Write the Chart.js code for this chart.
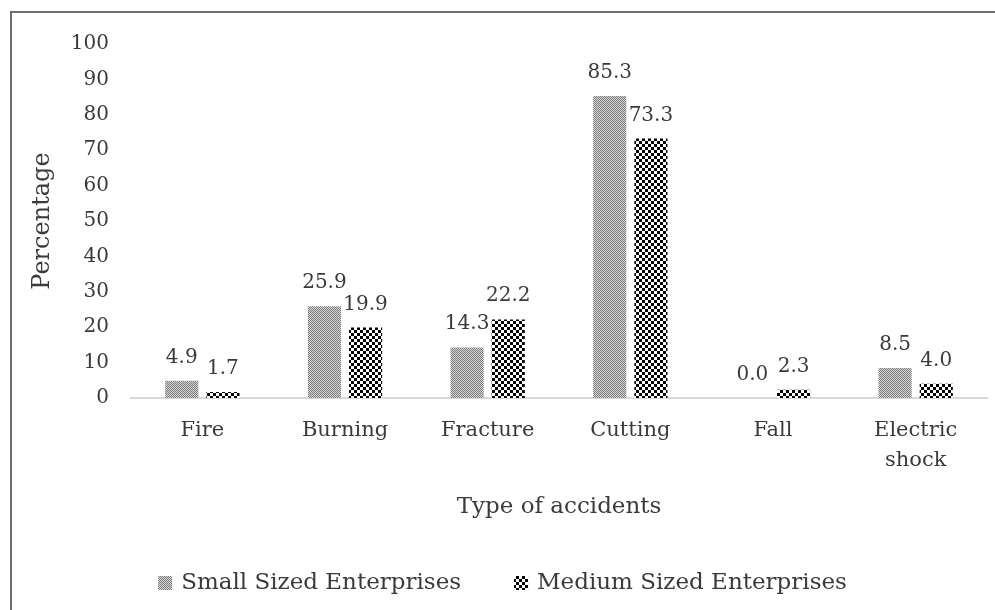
<!DOCTYPE html>
<html>
<head>
<meta charset="utf-8">
<script src="https://cdn.jsdelivr.net/npm/chart.js@4/dist/chart.umd.min.js"></script>
<style>
  body { margin: 0; background: #fff; overflow: hidden; }
  #wrap { position: relative; width: 995px; height: 610px; }
  #frame { position: absolute; left: 10px; top: 11px; width: 1100px; height: 800px;
           border: 2px solid #6e6e6e; pointer-events: none; }
</style>
</head>
<body>
<div id="wrap">
  <canvas id="chart" width="995" height="610"></canvas>
  <div id="frame"></div>
</div>
<script>
const categories = ['Fire', 'Burning', 'Fracture', 'Cutting', 'Fall', ['Electric', 'shock']];
const smallValues = [4.9, 25.9, 14.3, 85.3, 0.0, 8.5];
const mediumValues = [1.7, 19.9, 22.2, 73.3, 2.3, 4.0];
const seriesNames = ['Small Sized Enterprises', 'Medium Sized Enterprises'];

const FONT = "'DejaVu Serif', serif";
const TEXT = '#3a3a3a';

// fine gray checker for small, coarse black/white checker for medium
function finePattern() {
  const c = document.createElement('canvas');
  c.width = 2; c.height = 2;
  const g = c.getContext('2d');
  g.fillStyle = '#d8d8d8'; g.fillRect(0, 0, 2, 2);
  g.fillStyle = '#7a7a7a'; g.fillRect(0, 0, 1, 1); g.fillRect(1, 1, 1, 1);
  return g.createPattern(c, 'repeat');
}
function coarsePattern() {
  const c = document.createElement('canvas');
  c.width = 6; c.height = 6;
  const g = c.getContext('2d');
  g.fillStyle = '#fff'; g.fillRect(0, 0, 6, 6);
  g.fillStyle = '#000'; g.fillRect(0, 0, 3, 3); g.fillRect(3, 3, 3, 3);
  return g.createPattern(c, 'repeat');
}

const valueLabels = {
  id: 'valueLabels',
  afterDatasetsDraw(chart) {
    const ctx = chart.ctx;
    ctx.save();
    ctx.font = '20px ' + FONT;
    ctx.fillStyle = TEXT;
    ctx.textAlign = 'center';
    ctx.textBaseline = 'alphabetic';
    chart.data.datasets.forEach((ds, i) => {
      chart.getDatasetMeta(i).data.forEach((bar, j) => {
        ctx.fillText(ds.data[j].toFixed(1), bar.x, bar.y - 18);
      });
    });
    ctx.restore();
  }
};

// legend drawn by hand so the gap between items can be wide
const bottomLegend = {
  id: 'bottomLegend',
  afterDraw(chart) {
    const ctx = chart.ctx;
    const box = 14, gap = 9, itemGap = 53, y = 583;
    ctx.save();
    ctx.font = '23px ' + FONT;
    const items = chart.data.datasets.map(ds => ({ text: ds.label, fill: ds.backgroundColor, w: ctx.measureText(ds.label).width }));
    let total = 0;
    items.forEach((it, i) => { total += box + gap + it.w + (i ? itemGap : 0); });
    let x = chart.width / 2 - total / 2 + 5;
    items.forEach((it, i) => {
      if (i) x += itemGap;
      ctx.fillStyle = it.fill;
      ctx.fillRect(x, y - box / 2, box, box);
      x += box + gap;
      ctx.fillStyle = TEXT;
      ctx.textBaseline = 'middle';
      ctx.textAlign = 'left';
      ctx.fillText(it.text, x, y);
      x += it.w;
    });
    ctx.restore();
  }
};

new Chart(document.getElementById('chart'), {
  type: 'bar',
  data: {
    labels: categories,
    datasets: [
      { label: seriesNames[0], data: smallValues, backgroundColor: finePattern(), borderWidth: 0 },
      { label: seriesNames[1], data: mediumValues, backgroundColor: coarsePattern(), borderWidth: 0 }
    ]
  },
  options: {
    responsive: false,
    animation: false,
    categoryPercentage: 0.577,
    barPercentage: 0.805,
    layout: { padding: { left: 28, right: 8, top: 44, bottom: 89 } },
    plugins: {
      tooltip: { enabled: false },
      legend: { display: false }
    },
    scales: {
      y: {
        min: 0,
        max: 100,
        afterFit(scale) { scale.width = 103; },
        ticks: { stepSize: 10, font: { family: FONT, size: 20 }, color: TEXT, padding: 22 },
        grid: { display: false, drawTicks: false },
        border: { display: false },
        title: { display: true, text: 'Percentage', font: { family: FONT, size: 24 }, color: TEXT, padding: { top: 0, bottom: 14 } }
      },
      x: {
        afterFit(scale) { scale.height = 123; },
        ticks: { font: { family: FONT, size: 21, lineHeight: 1.4 }, color: TEXT, maxRotation: 0, padding: 18 },
        grid: { display: false, drawTicks: false },
        border: { color: '#d9d9d9', width: 2 },
        title: { display: true, text: 'Type of accidents', font: { family: FONT, size: 23 }, color: TEXT, padding: { top: 18, bottom: 0 } }
      }
    }
  },
  plugins: [valueLabels, bottomLegend]
});
</script>
</body>
</html>
